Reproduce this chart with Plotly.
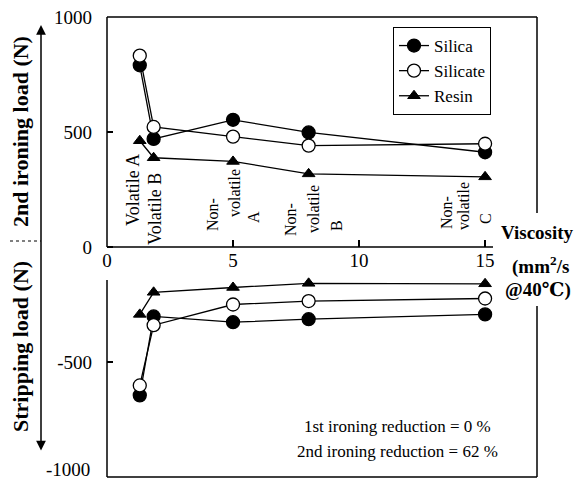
import plotly.graph_objects as go

# ---- data ----
viscosity = [1.3, 1.85, 5, 8, 15]
series_names = ["Silica", "Silicate", "Resin"]
ironing_silica = [790, 470, 553, 498, 412]
ironing_silicate = [832, 522, 480, 441, 449]
ironing_resin = [462, 388, 372, 318, 305]
strip_silica = [-645, -302, -327, -314, -293]
strip_silicate = [-602, -340, -250, -235, -224]
strip_resin = [-293, -197, -176, -158, -160]
x_ticks = [0, 5, 10, 15]
y_ticks = [-500, 0, 500, 1000]
y_tick_text = ["-500", "0", "500", "1000"]
y_bottom_label = "-1000"
category_labels = [
    ("Volatile A", 133, 190, 18), ("Volatile B", 155, 209, 18),
    ("Non-", 213, 215, 16), ("volatile", 234, 193, 16), ("A", 253, 217, 16),
    ("Non-", 290, 220, 16), ("volatile", 313, 209, 16), ("B", 336, 226, 16),
    ("Non-", 446, 213, 16), ("volatile", 464, 206, 16), ("C", 485, 219, 16),
]

W, H = 579, 481
L, R, T, B = 107, 537, 17, 477
FONT = "Liberation Serif, Times New Roman, DejaVu Serif, serif"


def px(x):
    return (x - L) / (R - L)


def py(y):
    return (B - y) / (B - T)


styles = {
    "Silica": dict(symbol="circle", size=13, color="black", line=dict(color="black", width=1.3)),
    "Silicate": dict(symbol="circle", size=13, color="white", line=dict(color="black", width=1.3)),
    "Resin": dict(symbol="triangle-up", size=11, color="black", line=dict(color="black", width=1)),
}

fig = go.Figure()
pairs = {
    "Silica": (ironing_silica, strip_silica),
    "Silicate": (ironing_silicate, strip_silicate),
    "Resin": (ironing_resin, strip_resin),
}
for name in series_names:
    up, down = pairs[name]
    fig.add_trace(go.Scatter(x=viscosity, y=up, mode="lines+markers", name=name,
                             line=dict(color="black", width=1.3), marker=styles[name]))
for name in series_names:
    up, down = pairs[name]
    fig.add_trace(go.Scatter(x=viscosity, y=down, mode="lines+markers", name=name,
                             line=dict(color="black", width=1.3), marker=styles[name],
                             showlegend=False))

shapes = []
lw = dict(color="black", width=1.5)
# frame
shapes.append(dict(type="line", xref="paper", yref="paper", x0=0, x1=1, y0=1, y1=1, line=lw))
shapes.append(dict(type="line", xref="paper", yref="paper", x0=0, x1=1, y0=0, y1=0, line=lw))
shapes.append(dict(type="line", xref="paper", yref="paper", x0=0, x1=0, y0=1, y1=py(247), line=lw))
shapes.append(dict(type="line", xref="paper", yref="paper", x0=0, x1=0, y0=py(280), y1=0, line=lw))
shapes.append(dict(type="line", xref="paper", yref="paper", x0=1, x1=1, y0=1, y1=py(213), line=lw))
shapes.append(dict(type="line", xref="paper", yref="paper", x0=1, x1=1, y0=py(306), y1=0, line=lw))
# x axis line at zero
shapes.append(dict(type="line", xref="paper", yref="paper", x0=0, x1=px(493), y0=0.5, y1=0.5, line=lw))
# separator on left
shapes.append(dict(type="line", xref="paper", yref="paper", x0=px(10), x1=px(41), y0=py(241), y1=py(241),
                   line=dict(color="black", width=1, dash="dot")))

annotations = []


def ann(text, x, y, size, angle=0, **kw):
    d = dict(xref="paper", yref="paper", x=px(x), y=py(y), text=text, showarrow=False,
             xanchor="center", yanchor="middle", textangle=angle,
             font=dict(family=FONT, size=size, color="black"))
    d.update(kw)
    annotations.append(d)


# double arrow
annotations.append(dict(xref="paper", yref="paper", x=px(41), y=py(25), ax=0, ay=427,
                        axref="pixel", ayref="pixel", text="", showarrow=True,
                        arrowhead=2, startarrowhead=2, arrowside="end+start",
                        arrowsize=1.3, arrowwidth=1.5, arrowcolor="black"))
ann("<b>2nd ironing load (N)</b>", 20, 132, 22, -90)
ann("<b>Stripping load (N)</b>", 20, 347, 22, -90)
# viscosity label
ann("<b>Viscosity</b>", 537, 233, 19)
ann("<b>(mm<sup>2</sup>/s</b>", 540, 265, 19)
ann("<b>@40℃)</b>", 538, 290, 19)
# bottom y label
ann(y_bottom_label, 92, 469, 19, xanchor="right")
# category labels
for txt, xx, yy, fs in category_labels:
    ann(txt, xx, yy, fs, -90)
# note text
ann("1st ironing reduction = 0 %", 397, 426, 17)
ann("2nd ironing reduction = 62 %", 397, 451, 17)

fig.update_layout(
    width=W, height=H,
    margin=dict(l=L, r=W - R, t=T, b=H - B, pad=0),
    paper_bgcolor="white", plot_bgcolor="white",
    font=dict(family=FONT, size=18, color="black"),
    xaxis=dict(range=[0, 17.06], anchor="free", position=0.5, showline=False, showgrid=False,
               zeroline=False, ticks="inside", ticklen=7, tickwidth=1.5, tickcolor="black",
               tickvals=x_ticks, tickfont=dict(family=FONT, size=19)),
    yaxis=dict(range=[-1000, 1000], showline=False, showgrid=False, zeroline=False,
               ticks="inside", ticklen=6, tickwidth=1.5, tickcolor="black",
               tickvals=y_ticks, ticktext=y_tick_text,
               tickfont=dict(family=FONT, size=19), ticklabelstandoff=14),
    legend=dict(x=px(393), y=py(27), xanchor="left", yanchor="top",
                bgcolor="white", bordercolor="black", borderwidth=1,
                font=dict(family=FONT, size=17, color="black"), tracegroupgap=0, itemwidth=30),
    shapes=shapes, annotations=annotations,
)

fig.write_html("out.html", config={"displayModeBar": False},
               post_script="document.body.style.margin='0px';")
